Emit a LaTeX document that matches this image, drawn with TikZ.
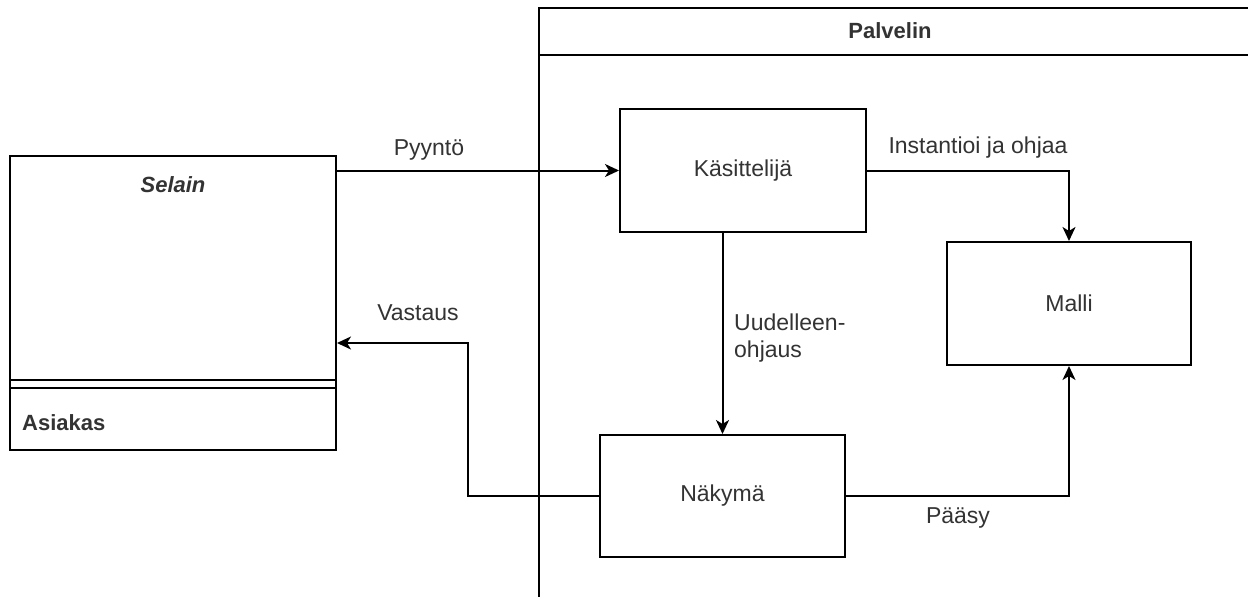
\documentclass[tikz,border=0pt]{standalone}
\usepackage{fontspec}
\setmainfont{Liberation Sans}
\usetikzlibrary{arrows.meta}
\begin{document}
\begin{tikzpicture}[x=1pt,y=-1pt,
  box/.style={draw=black,line width=2pt,fill=white,font=\fontsize{23}{27}\selectfont,text=black!80},
  lbl/.style={font=\fontsize{23}{27}\selectfont,text=black!80,inner sep=0pt},
  conn/.style={draw=black,line width=2pt,-{Stealth[length=14pt,width=13pt,inset=4pt]}}]
\useasboundingbox[fill=white] (0,0) rectangle (1248,597);
% Palvelin frame
\draw[line width=2pt] (1250,8) -- (539,8) -- (539,599);
\draw[line width=2pt] (539,55) -- (1250,55);
\node[lbl,font=\bfseries\fontsize{22}{26}\selectfont] (palvelin) at (890,31) {Palvelin};
% Selain
\node[box,minimum width=326pt,minimum height=294pt] (selain) at (173,303) {};
\draw[line width=2pt] (10,380) -- (336,380);
\draw[line width=2pt] (10,388) -- (336,388);
\node[lbl,font=\bfseries\itshape\fontsize{22}{26}\selectfont] (selaint) at (173,185) {Selain};
\node[lbl,font=\bfseries\fontsize{22}{26}\selectfont,anchor=west] (asiakas) at (22,423) {Asiakas};
% boxes
\node[box,minimum width=246pt,minimum height=123pt] (kas) at (743,170.5) {Käsittelijä};
\node[box,minimum width=244pt,minimum height=123pt] (malli) at (1069,303.5) {Malli};
\node[box,minimum width=245pt,minimum height=122pt] (nak) at (722.5,496) {Näkymä};
\coordinate (v1) at (468,343);
% connectors
\draw[conn] (selain.east |- kas.west) -- (kas.west);
\draw[conn] (kas.east) -| (malli.north);
\draw[conn] (nak.north |- kas.south) -- (nak.north);
\draw[conn] (nak.west) -| (v1) -- (v1 -| selain.east);
\draw[conn] (nak.east) -| (malli.south);
% labels
\node[lbl] (lp) at (429,150) {Pyyntö};
\node[lbl] (li) at (978,148) {Instantioi ja ohjaa};
\node[lbl,anchor=west] (lu1) at (734,322) {Uudelleen-};
\node[lbl,anchor=west] (lu2) at (734,352) {ohjaus};
\node[lbl] (lv) at (418,313) {Vastaus};
\node[lbl] (lpa) at (958,518) {Pääsy};
\end{tikzpicture}
\end{document}
